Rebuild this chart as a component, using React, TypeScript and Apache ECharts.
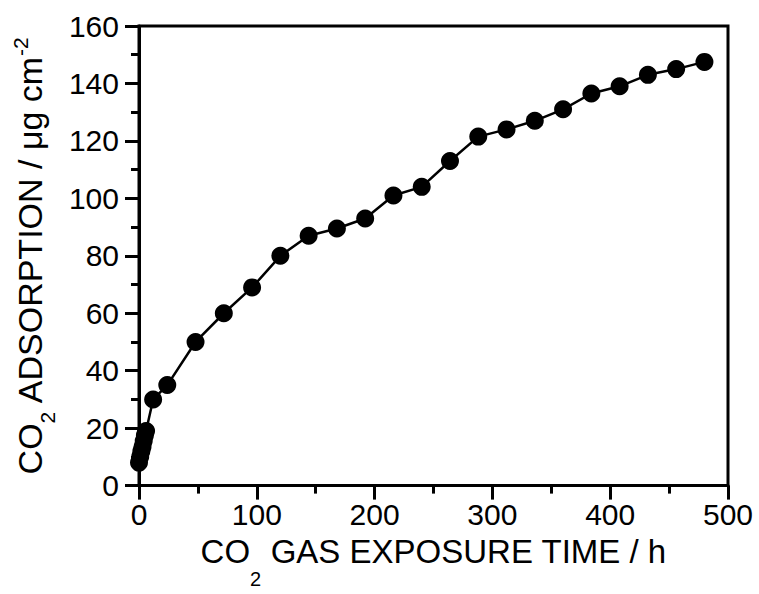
import React, { useEffect, useRef } from "react";
import * as echarts from "echarts";

const hours = [0, 1, 2, 3, 4, 5, 6, 12, 24, 48, 72, 96, 120, 144, 168, 192, 216, 240, 264, 288, 312, 336, 360, 384, 408, 432, 456, 480];
const adsorption = [8, 10, 12, 13.5, 15.5, 17.5, 19, 30, 35, 50, 60, 69, 80, 87, 89.5, 93, 101, 104, 113, 121.5, 124, 127, 131, 136.5, 139, 143, 145, 147.5];

const xTicks = { min: 0, max: 500, interval: 100 };
const yTicks = { min: 0, max: 160, interval: 20 };

const FONT = "'Liberation Sans', Arial, sans-serif";

export default function App() {
  const ref = useRef<HTMLDivElement>(null);
  useEffect(() => {
    if (!ref.current) return;
    const chart = echarts.init(ref.current, null, { renderer: "svg" });
    const data = hours.map((h, i) => [h, adsorption[i]]);
    chart.setOption({
      animation: false,
      backgroundColor: "#fff",
      grid: {
        left: 139,
        right: 31,
        top: 26,
        bottom: 106,
        show: true,
        borderColor: "#000",
        borderWidth: 3,
        containLabel: false,
      },
      xAxis: {
        type: "value",
        min: xTicks.min,
        max: xTicks.max,
        interval: xTicks.interval,
        axisLine: { show: true, onZero: false, lineStyle: { color: "#000", width: 3 } },
        axisTick: { show: true, inside: false, length: 14, lineStyle: { color: "#000", width: 3 } },
        minorTick: { show: true, splitNumber: 2, length: 8, lineStyle: { color: "#000", width: 3 } },
        splitLine: { show: false },
        axisLabel: { color: "#000", fontSize: 30, fontFamily: FONT, margin: 14 },
        name: "{m|CO}{s|2}{m| GAS EXPOSURE TIME / h}",
        nameLocation: "middle",
        nameGap: 24,
        nameTextStyle: {
          color: "#000",
          fontFamily: FONT,
          fontSize: 33,
          rich: {
            m: { fontSize: 33, fontFamily: FONT, color: "#000" },
            s: { fontSize: 20, fontFamily: FONT, color: "#000", padding: [56, 0, 0, 0] },
          },
        },
      },
      yAxis: {
        type: "value",
        min: yTicks.min,
        max: yTicks.max,
        interval: yTicks.interval,
        axisLine: { show: true, onZero: false, lineStyle: { color: "#000", width: 3 } },
        axisTick: { show: true, inside: false, length: 14, lineStyle: { color: "#000", width: 3 } },
        minorTick: { show: true, splitNumber: 2, length: 8, lineStyle: { color: "#000", width: 3 } },
        splitLine: { show: false },
        axisLabel: { color: "#000", fontSize: 30, fontFamily: FONT, margin: 20 },
        name: "{m|CO}{s|2}{m| ADSORPTION / μg cm}{u|-2}",
        nameLocation: "middle",
        nameGap: 77,
        nameTextStyle: {
          color: "#000",
          fontFamily: FONT,
          fontSize: 34,
          rich: {
            m: { fontSize: 34, fontFamily: FONT, color: "#000" },
            s: { fontSize: 21, fontFamily: FONT, color: "#000", padding: [36, 0, 0, 0] },
            u: { fontSize: 21, fontFamily: FONT, color: "#000", padding: [0, 0, 18, 0] },
          },
        },
      },
      series: [
        {
          type: "line",
          data,
          clip: false,
          symbol: "circle",
          symbolSize: 18,
          lineStyle: { color: "#000", width: 2.5 },
          itemStyle: { color: "#000" },
        },
      ],
    });
    return () => chart.dispose();
  }, []);
  return (
    <div
      ref={ref}
      style={{ position: "absolute", left: 0, top: 0, width: 759, height: 594 }}
    />
  );
}
